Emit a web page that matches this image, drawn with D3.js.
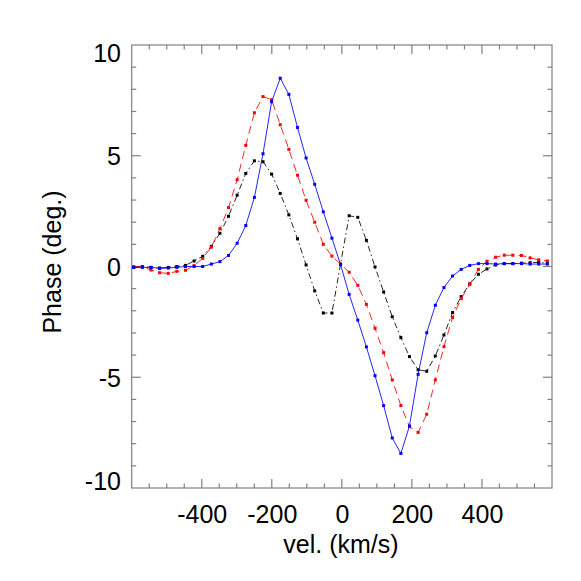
<!DOCTYPE html>
<html>
<head>
<meta charset="utf-8">
<script src="https://cdn.jsdelivr.net/npm/d3@7"></script>
<style>
html,body{margin:0;padding:0;background:#fff;}
svg{display:block;}
text{font-family:"Liberation Sans",Arial,Helvetica,sans-serif;fill:#000;}
</style>
</head>
<body>
<svg id="chart" width="581" height="581"></svg>
<script>
// Data
const velocity = [-594.1,-569.5,-544.9,-520.3,-495.7,-471.1,-446.5,-421.9,-397.3,-372.7,-348.1,-323.5,-298.9,-274.3,-249.7,-225.1,-200.5,-175.9,-151.3,-126.7,-102.1,-77.5,-52.9,-28.3,-3.7,20.9,45.5,70.1,94.7,119.3,143.9,168.5,193.1,217.7,242.3,266.9,291.5,316.1,340.7,365.3,389.9,414.5,439.1,463.7,488.3,512.9,537.5,562.1,586.7];
const phaseBlue = [-0.04,-0.04,-0.04,-0.08,-0.07,-0.04,0,0,0,0.11,0.22,0.5,1.05,1.85,3.12,5.09,7.44,8.5,7.77,6.28,4.9,3.71,2.47,1.28,0.08,-1.26,-2.42,-3.63,-4.93,-6.28,-7.74,-8.44,-7.2,-4.87,-2.99,-1.75,-0.95,-0.43,-0.13,0.05,0.13,0.13,0.11,0.13,0.13,0.13,0.11,0.11,0.11];
const phaseRed = [0,-0.02,-0.16,-0.28,-0.31,-0.22,-0.17,0.04,0.37,0.87,1.71,2.66,3.92,5.47,6.94,7.67,7.53,6.4,5.29,4.12,2.99,2.0,1.0,0.47,0.11,-0.26,-0.85,-1.71,-2.79,-3.89,-5.12,-6.28,-7.23,-7.49,-6.67,-5.12,-3.62,-2.3,-1.45,-0.8,-0.13,0.24,0.42,0.51,0.51,0.5,0.39,0.3,0.25];
const phaseBlack = [-0.04,0,-0.04,-0.07,-0.04,0,0.05,0.25,0.46,0.91,1.5,2.27,3.22,4.2,4.77,4.73,4.17,3.3,2.33,1.25,0.07,-1.1,-2.1,-2.1,0.11,2.29,2.22,1.18,-0.02,-1.15,-2.27,-3.21,-4.07,-4.66,-4.73,-4.04,-3.09,-2.08,-1.36,-0.78,-0.35,-0.11,0.07,0.13,0.13,0.15,0.17,0.19,0.14];
const xTickValues = [-400,-200,0,200,400];
const yTickValues = [-10,-5,0,5,10];
const xLabel = "vel. (km/s)";
const yLabel = "Phase (deg.)";

const svg = d3.select("#chart");
const L = 131.7, R = 552, T = 45, B = 488;
const x = d3.scaleLinear().domain([-600, 600]).range([L, R]);
const y = d3.scaleLinear().domain([-10, 10]).range([B, T]);
const axisColor = "#808080";

// frame
svg.append("rect").attr("x", L).attr("y", T).attr("width", R - L).attr("height", B - T)
  .attr("fill", "none").attr("stroke", axisColor).attr("stroke-width", 1.2);

// ticks on all four sides
const xMinor = d3.range(-550, 600, 50);
const yMinor = d3.range(-9, 10, 1);
function drawTicks() {
  const g = svg.append("g").attr("stroke", axisColor).attr("stroke-width", 1.2);
  xMinor.forEach(v => {
    const major = v % 200 === 0;
    const len = major ? 9 : 4.5;
    g.append("line").attr("x1", x(v)).attr("x2", x(v)).attr("y1", B).attr("y2", B - len);
    g.append("line").attr("x1", x(v)).attr("x2", x(v)).attr("y1", T).attr("y2", T + len);
  });
  yMinor.forEach(v => {
    const major = v % 5 === 0;
    const len = major ? 9 : 4.5;
    g.append("line").attr("y1", y(v)).attr("y2", y(v)).attr("x1", L).attr("x2", L + len);
    g.append("line").attr("y1", y(v)).attr("y2", y(v)).attr("x1", R).attr("x2", R - len);
  });
}
drawTicks();

const fmt = d => String(d);

// tick labels via d3 axes (lines hidden)
const xAxis = d3.axisBottom(x).tickValues(xTickValues).tickSize(0).tickPadding(0).tickFormat(fmt);
const gx = svg.append("g").attr("transform", `translate(0,${B + 35})`).call(xAxis);
gx.select(".domain").remove();
gx.selectAll("text").attr("font-size", 25).attr("dy", 0).attr("font-family", "Liberation Sans, Arial, sans-serif").attr("fill", "#000");

const yAxis = d3.axisLeft(y).tickValues(yTickValues).tickSize(0).tickPadding(0).tickFormat(fmt);
const gy = svg.append("g").attr("transform", `translate(${121},0)`).call(yAxis);
gy.select(".domain").remove();
gy.selectAll("text").attr("font-size", 25).attr("font-family", "Liberation Sans, Arial, sans-serif").attr("fill", "#000")
  .attr("dy", d => d === 10 ? "0.64em" : (d === -10 ? "0.04em" : "0.36em"));

// axis titles
svg.append("text").attr("x", 341).attr("y", 553).attr("text-anchor", "middle").attr("font-size", 25).text(xLabel);
svg.append("text").attr("transform", "translate(61,262) rotate(-90)").attr("text-anchor", "middle").attr("font-size", 25).text(yLabel);

// series
const series = [
  {vals: phaseBlack, color: "#000000", dash: "6,3,1.5,3"},
  {vals: phaseRed, color: "#ff0000", dash: "8,5"},
  {vals: phaseBlue, color: "#0000ff", dash: null}
];
const line = d3.line().x(d => x(d[0])).y(d => y(d[1]));
const plot = svg.append("g");
series.forEach(s => {
  const pts = velocity.map((v, i) => [v, s.vals[i]]);
  const p = plot.append("path").datum(pts).attr("d", line)
    .attr("fill", "none").attr("stroke", s.color).attr("stroke-width", 1).attr("stroke-opacity", 0.85);
  if (s.dash) p.attr("stroke-dasharray", s.dash);
  plot.append("g").selectAll("rect").data(pts).join("rect")
    .attr("x", d => x(d[0]) - 1.5).attr("y", d => y(d[1]) - 1.5)
    .attr("width", 3).attr("height", 3).attr("fill", s.color);
});
</script>
</body>
</html>
